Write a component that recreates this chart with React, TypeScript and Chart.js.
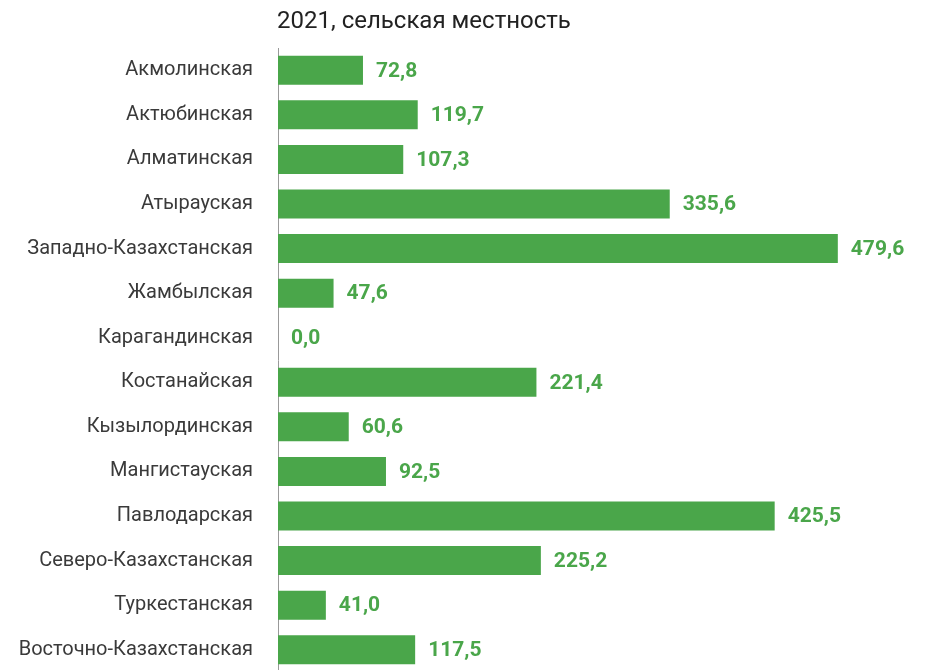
import React, { useEffect, useRef } from "react";
import { Chart, registerables } from "chart.js";

Chart.register(...registerables);

const categories = [
  "Акмолинская",
  "Актюбинская",
  "Алматинская",
  "Атырауская",
  "Западно-Казахстанская",
  "Жамбылская",
  "Карагандинская",
  "Костанайская",
  "Кызылординская",
  "Мангистауская",
  "Павлодарская",
  "Северо-Казахстанская",
  "Туркестанская",
  "Восточно-Казахстанская",
];

const values = [72.8, 119.7, 107.3, 335.6, 479.6, 47.6, 0.0, 221.4, 60.6, 92.5, 425.5, 225.2, 41.0, 117.5];

const titleText = "2021, сельская местность";

const GREEN = "#4aa64a";

const CANVAS_H = 709;

const valueLabels = {
  id: "valueLabels",
  afterDatasetsDraw(chart: any) {
    const ctx = chart.ctx;
    const meta = chart.getDatasetMeta(0);
    ctx.save();
    ctx.font = "bold 21px Roboto";
    ctx.fillStyle = GREEN;
    ctx.textAlign = "left";
    ctx.textBaseline = "middle";
    meta.data.forEach((bar: any, i: number) => {
      const v = values[i];
      const txt = v.toFixed(1).replace(".", ",");
      ctx.fillText(txt, bar.x + 13, bar.y + 1);
    });
    ctx.restore();
  },
};

const titlePlugin = {
  id: "customTitle",
  afterDraw(chart: any) {
    const ctx = chart.ctx;
    ctx.save();
    ctx.font = "24px Roboto";
    ctx.fillStyle = "#222";
    ctx.textAlign = "left";
    ctx.textBaseline = "alphabetic";
    ctx.fillText(titleText, chart.chartArea.left - 1, 28);
    ctx.restore();
  },
};

export default function App() {
  const ref = useRef<HTMLCanvasElement | null>(null);
  useEffect(() => {
    if (!ref.current) return;
    const chart = new Chart(ref.current, {
      type: "bar",
      data: {
        labels: categories,
        datasets: [
          {
            data: values,
            backgroundColor: GREEN,
            borderWidth: 0,
            categoryPercentage: 1,
            barPercentage: 0.65,
          },
        ],
      },
      options: {
        indexAxis: "y",
        animation: false,
        responsive: false,
        maintainAspectRatio: false,
        layout: { padding: { top: 48, right: 6, bottom: 0, left: 0 } },
        plugins: {
          legend: { display: false },
          tooltip: { enabled: false },
          title: { display: false },
        },
        scales: {
          x: {
            display: false,
            min: 0,
            max: 550,
          },
          y: {
            grid: { display: false, drawTicks: false },
            border: { display: true, color: "#999", width: 1 },
            ticks: {
              color: "#3a3a3a",
              font: { family: "Roboto", size: 20 },
              padding: 25,
            },
            afterFit(scale: any) {
              scale.width = 278;
            },
          },
        },
      },
      plugins: [valueLabels, titlePlugin],
    });
    return () => chart.destroy();
  }, []);
  return (
    <div style={{ position: "fixed", left: 0, top: 0, width: 926, height: CANVAS_H }}>
      <canvas ref={ref} width={926} height={CANVAS_H} style={{ width: 926, height: CANVAS_H }} />
    </div>
  );
}
